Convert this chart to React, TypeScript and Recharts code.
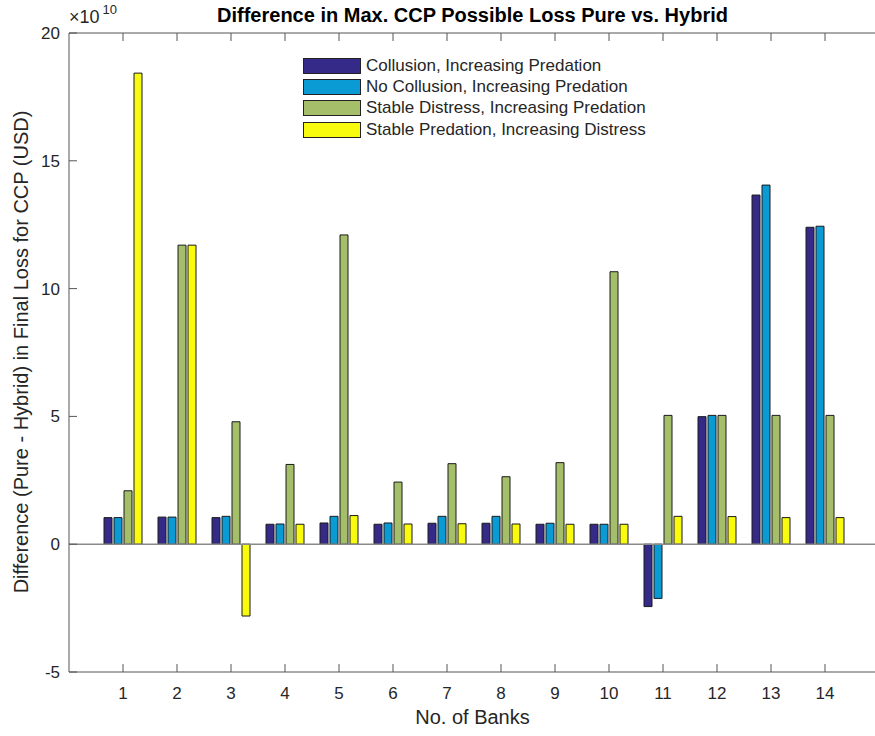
import React from 'react'
import { BarChart, Bar, XAxis, YAxis, Legend, ReferenceLine } from 'recharts'

// values are in units of 1e10 USD
const banks = ['1', '2', '3', '4', '5', '6', '7', '8', '9', '10', '11', '12', '13', '14']
const collusionPredation = [1.04, 1.06, 1.04, 0.78, 0.83, 0.78, 0.82, 0.82, 0.78, 0.78, -2.44, 4.99, 13.66, 12.4]
const noCollusionPredation = [1.04, 1.06, 1.09, 0.79, 1.09, 0.83, 1.09, 1.09, 0.82, 0.78, -2.12, 5.04, 14.05, 12.44]
const stableDistress = [2.09, 11.7, 4.79, 3.12, 12.1, 2.43, 3.15, 2.64, 3.19, 10.66, 5.04, 5.04, 5.04, 5.04]
const stablePredation = [18.43, 11.7, -2.81, 0.78, 1.12, 0.79, 0.8, 0.79, 0.78, 0.78, 1.09, 1.08, 1.04, 1.04]
const yTicks = [-5, 0, 5, 10, 15, 20]

const SERIES = [
  { key: 'a', name: 'Collusion, Increasing Predation', color: '#352a87', values: collusionPredation },
  { key: 'b', name: 'No Collusion, Increasing Predation', color: '#0a9bd4', values: noCollusionPredation },
  { key: 'c', name: 'Stable Distress, Increasing Predation', color: '#a5be6a', values: stableDistress },
  { key: 'd', name: 'Stable Predation, Increasing Distress', color: '#f9fb0e', values: stablePredation },
]

const data = banks.map((bank, i) => {
  const row: any = { bank }
  SERIES.forEach((s) => { row[s.key] = s.values[i] })
  return row
})

const FONT = '"Liberation Sans", Arial, Helvetica, sans-serif'
const TEXT = '#262626'
const AXIS = '#555555'
const TICK = 8

// MATLAB style ticks point into the plot
const LeftTick = (props: any) => {
  const { x, y, payload } = props
  return (
    <g>
      <line x1={x} y1={y} x2={x + TICK} y2={y} stroke={AXIS} />
      <text x={x - 9} y={y} dy={6} textAnchor="end" fontSize={17} fill={TEXT} fontFamily={FONT}>{payload.value}</text>
    </g>
  )
}
const RightTick = (props: any) => {
  const { x, y } = props
  return <line x1={x} y1={y} x2={x - TICK} y2={y} stroke={AXIS} />
}
const BottomTick = (props: any) => {
  const { x, y, payload } = props
  return (
    <g>
      <line x1={x} y1={y} x2={x} y2={y - TICK} stroke={AXIS} />
      <text x={x} y={y + 27} textAnchor="middle" fontSize={17} fill={TEXT} fontFamily={FONT}>{payload.value}</text>
    </g>
  )
}
const TopTick = (props: any) => {
  const { x, y } = props
  return <line x1={x} y1={y} x2={x} y2={y + TICK} stroke={AXIS} />
}

const LegendBox = () => (
  <div style={{ fontFamily: FONT, fontSize: 17, color: TEXT }}>
    {SERIES.map((s) => (
      <div key={s.key} style={{ display: 'flex', alignItems: 'center', height: 21.3 }}>
        <div style={{ width: 56, height: 14, background: s.color, border: '1px solid #222', marginRight: 5 }} />
        <span>{s.name}</span>
      </div>
    ))}
  </div>
)

export default function App() {
  return (
    <div style={{ position: 'absolute', left: 0, top: 0, width: 875, height: 736, overflow: 'hidden', background: '#fff' }}>
      <BarChart
        width={880}
        height={736}
        data={data}
        margin={{ top: 32, right: 0, bottom: 63, left: 0 }}
        barSize={8}
        barGap={2}
      >
        <XAxis
          dataKey="bank"
          type="category"
          padding={{ left: 27, right: 27 }}
          height={1}
          tickSize={0}
          tickMargin={0}
          tickLine={false}
          axisLine={{ stroke: AXIS }}
          tick={<BottomTick />}
          interval={0}
        />
        <XAxis
          xAxisId="top"
          dataKey="bank"
          type="category"
          orientation="top"
          padding={{ left: 27, right: 27 }}
          height={1}
          tickSize={0}
          tickMargin={0}
          tickLine={false}
          axisLine={{ stroke: AXIS }}
          tick={<TopTick />}
          interval={0}
        />
        <YAxis
          width={69}
          domain={[-5, 20]}
          ticks={yTicks}
          type="number"
          allowDataOverflow
          tickSize={0}
          tickMargin={0}
          tickLine={false}
          axisLine={{ stroke: AXIS }}
          tick={<LeftTick />}
        />
        <YAxis
          yAxisId="right"
          orientation="right"
          width={1}
          domain={[-5, 20]}
          ticks={yTicks}
          type="number"
          tickSize={0}
          tickMargin={0}
          tickLine={false}
          axisLine={{ stroke: AXIS }}
          tick={<RightTick />}
        />
        <ReferenceLine y={0} stroke="#8a8a8a" strokeWidth={1.5} />
        {SERIES.map((s) => (
          <Bar key={s.key} dataKey={s.key} name={s.name} fill={s.color} stroke="#1a1a1a" strokeWidth={1} isAnimationActive={false} />
        ))}
        <Legend
          content={<LegendBox />}
          layout="vertical"
          verticalAlign="middle"
          align="center"
          wrapperStyle={{ top: 55, left: 303, width: 380 }}
        />
      </BarChart>
      <div style={{ position: 'absolute', left: 69, width: 807, top: 4, textAlign: 'center', fontFamily: FONT, fontWeight: 'bold', fontSize: 20, color: '#000' }}>
        Difference in Max. CCP Possible Loss Pure vs. Hybrid
      </div>
      <div style={{ position: 'absolute', left: 69, top: 6, fontFamily: FONT, fontSize: 18, color: TEXT, lineHeight: '22px' }}>
        ×10<sup style={{ fontSize: 13, verticalAlign: 'top', position: 'relative', top: -7, marginLeft: 3 }}>10</sup>
      </div>
      <div style={{ position: 'absolute', left: 69, width: 807, top: 706, textAlign: 'center', fontFamily: FONT, fontSize: 20, color: TEXT }}>
        No. of Banks
      </div>
      <div style={{ position: 'absolute', left: 21, top: 352, width: 0, height: 0 }}>
        <div style={{ position: 'absolute', transform: 'translate(-50%, -50%) rotate(-90deg)', whiteSpace: 'nowrap', fontFamily: FONT, fontSize: 20, color: TEXT }}>
          Difference (Pure - Hybrid) in Final Loss for CCP (USD)
        </div>
      </div>
    </div>
  )
}
